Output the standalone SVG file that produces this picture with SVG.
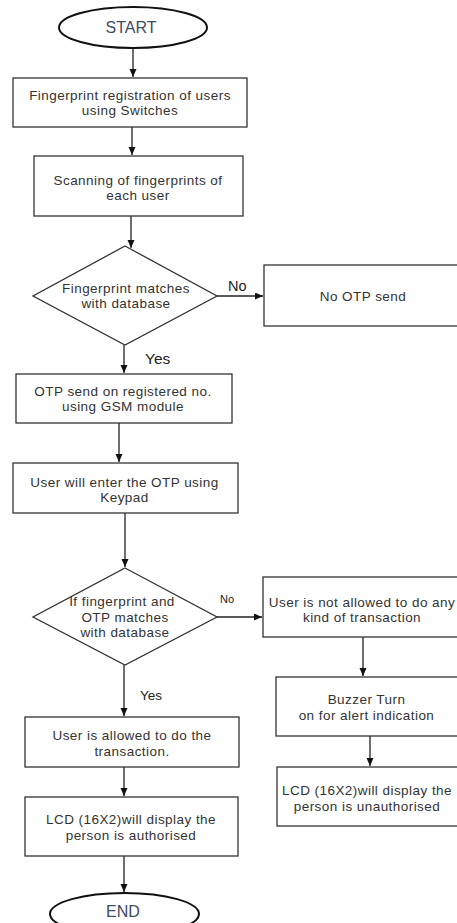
<svg xmlns="http://www.w3.org/2000/svg" width="457" height="923" viewBox="0 0 457 923">
<defs>
<marker id="arr" markerUnits="userSpaceOnUse" markerWidth="9" markerHeight="8" refX="8" refY="3.5" orient="auto">
<path d="M0,0 L8,3.5 L0,7 z" fill="#111"/>
</marker>
<style>
.box{fill:#fff;stroke:#333;stroke-width:1.3}
.term{fill:#fff;stroke:#111;stroke-width:2}
.t{font-family:"Liberation Sans",Arial,sans-serif;font-size:13.5px;letter-spacing:0.45px;fill:#333;text-anchor:middle}
.tt{font-family:"Liberation Sans",Arial,sans-serif;font-size:16px;fill:#3d4b5e;text-anchor:middle}
.lbl{font-family:"Liberation Sans",Arial,sans-serif;fill:#222}
.c{fill:none;stroke:#222;stroke-width:1.3;marker-end:url(#arr)}
</style>
</defs>
<rect width="457" height="923" fill="#fff"/>
<g id="connectors">
<path class="c" d="M133,48 L133,77"/>
<path class="c" d="M132,127 L132,155"/>
<path class="c" d="M131,216 L131,248"/>
<path class="c" d="M217,296 L263,296"/>
<path class="c" d="M124,345 L124,373"/>
<path class="c" d="M119,423 L119,462"/>
<path class="c" d="M125,513 L125,567"/>
<path class="c" d="M217,617 L262,617"/>
<path class="c" d="M363,637 L363,676"/>
<path class="c" d="M370,736 L370,766"/>
<path class="c" d="M124,665 L124,716"/>
<path class="c" d="M124,767 L124,796"/>
<path class="c" d="M124,856 L124,892"/>
<text class="lbl" x="228" y="290.5" font-size="14.5">No</text>
<text class="lbl" x="145" y="364" font-size="15.5">Yes</text>
<text class="lbl" x="220" y="602.5" font-size="11">No</text>
<text class="lbl" x="140" y="700" font-size="13.5">Yes</text>
</g>
<g id="start">
<ellipse class="term" cx="133" cy="27.5" rx="74" ry="20.5"/>
<text class="tt" x="131" y="33">START</text>
</g>
<g id="registration">
<rect class="box" x="13" y="78" width="234" height="49"/>
<text class="t" x="130" y="99.75">Fingerprint registration of users</text>
<text class="t" x="130" y="115.25">using Switches</text>
</g>
<g id="scanning">
<rect class="box" x="34" y="156" width="209" height="60"/>
<text class="t" x="138" y="184.5">Scanning of fingerprints of</text>
<text class="t" x="138" y="200">each user</text>
</g>
<g id="decision1">
<polygon class="box" points="125,246 217,296 125,345 33,296"/>
<text class="t" x="126" y="292.75">Fingerprint matches</text>
<text class="t" x="126" y="308.25">with database</text>
</g>
<g id="no-otp">
<rect class="box" x="264" y="265" width="200" height="61"/>
<text class="t" x="363" y="300.5">No OTP send</text>
</g>
<g id="otp-send">
<rect class="box" x="16" y="374" width="216" height="49"/>
<text class="t" x="123" y="395.75">OTP send on registered no.</text>
<text class="t" x="123" y="411.25">using GSM module</text>
</g>
<g id="enter-otp">
<rect class="box" x="13" y="463" width="225" height="50"/>
<text class="t" x="124.5" y="486.5">User will enter the OTP using</text>
<text class="t" x="124.5" y="502">Keypad</text>
</g>
<g id="decision2">
<polygon class="box" points="125,568 217,617 125,665 33,617"/>
<text class="t" x="122" y="606">If fingerprint and</text>
<text class="t" x="125" y="621.5">OTP matches</text>
<text class="t" x="125" y="637">with database</text>
</g>
<g id="not-allowed">
<rect class="box" x="263" y="577" width="200" height="60"/>
<text class="t" x="362" y="606.5">User is not allowed to do any</text>
<text class="t" x="362" y="622">kind of transaction</text>
</g>
<g id="buzzer">
<rect class="box" x="276" y="677" width="190" height="59"/>
<text class="t" x="366.5" y="704.25">Buzzer Turn</text>
<text class="t" x="366.5" y="719.75">on for alert indication</text>
</g>
<g id="lcd-unauth">
<rect class="box" x="277" y="767" width="190" height="59"/>
<text class="t" x="367" y="795">LCD (16X2)will display the</text>
<text class="t" x="367" y="810.5">person is unauthorised</text>
</g>
<g id="allowed">
<rect class="box" x="25" y="717" width="214" height="50"/>
<text class="t" x="132" y="740">User is allowed to do the</text>
<text class="t" x="132" y="755.5">transaction.</text>
</g>
<g id="lcd-auth">
<rect class="box" x="25" y="797" width="213" height="59"/>
<text class="t" x="131" y="824.25">LCD (16X2)will display the</text>
<text class="t" x="131" y="839.75">person is authorised</text>
</g>
<g id="end">
<ellipse class="term" cx="124.5" cy="914" rx="74.5" ry="21"/>
<text class="tt" x="123" y="916.5">END</text>
</g>
</svg>
